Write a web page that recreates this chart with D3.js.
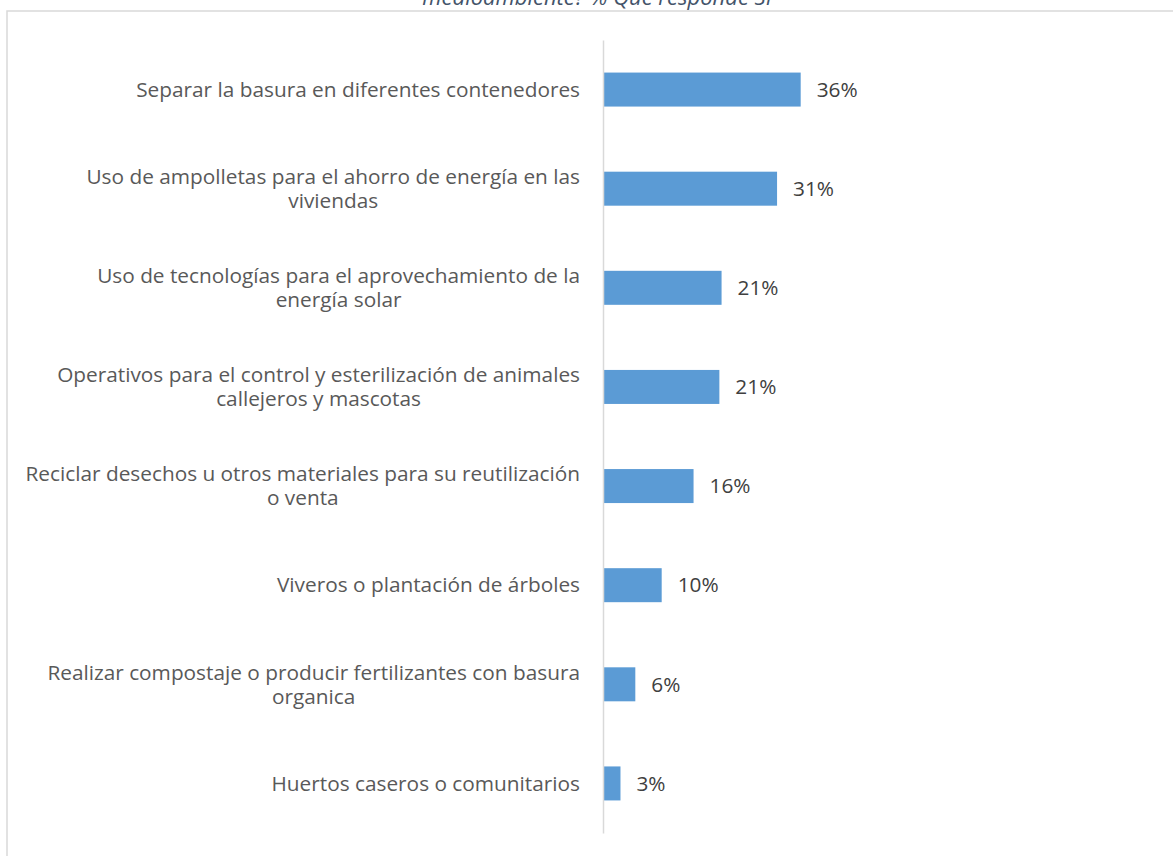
<!DOCTYPE html>
<html>
<head>
<meta charset="utf-8">
<script src="https://cdn.jsdelivr.net/npm/d3@7"></script>
<style>
  html, body { margin: 0; padding: 0; background: #ffffff; }
  svg { display: block; }
</style>
</head>
<body>
<div id="chart"></div>
<script>
const categories = [
  ["Separar la basura en diferentes contenedores"],
  ["Uso de ampolletas para el ahorro de energía en las", "viviendas"],
  ["Uso de tecnologías para el aprovechamiento de la", "energía solar"],
  ["Operativos para el control y esterilización de animales", "callejeros y mascotas"],
  ["Reciclar desechos u otros materiales para su reutilización", "o venta"],
  ["Viveros o plantación de árboles"],
  ["Realizar compostaje o producir fertilizantes con basura", "organica"],
  ["Huertos caseros o comunitarios"]
];
const values = [35.8, 31.5, 21.4, 21.0, 16.3, 10.5, 5.7, 3.0];
const valueLabels = ["36%", "31%", "21%", "21%", "16%", "10%", "6%", "3%"];
const titleText = "medioambiente? % Que responde SI";

const W = 1173, H = 856;
const fontFam = "'Open Sans', 'Noto Sans', sans-serif";

const svg = d3.select("#chart").append("svg")
  .attr("width", W).attr("height", H);

// frame
svg.append("rect")
  .attr("x", 7).attr("y", 11)
  .attr("width", W + 20).attr("height", H + 20)
  .attr("fill", "none").attr("stroke", "#d9d9d9").attr("stroke-width", 1.5);

// title (cut off at top, as in the reference)
svg.append("text")
  .attr("x", 597).attr("y", 5)
  .attr("text-anchor", "middle")
  .attr("font-family", fontFam)
  .attr("font-style", "italic")
  .attr("font-size", 22)
  .attr("fill", "#44546a")
  .text(titleText);

const x0 = 604;
const x = d3.scaleLinear().domain([0, 40]).range([x0, x0 + 40 * 5.494]);
const idx = d3.range(categories.length);
const y = d3.scaleBand().domain(idx).range([40, 833]).paddingInner(0.657).paddingOuter(0.3285);

// bars
svg.append("g").selectAll("rect").data(idx).join("rect")
  .attr("x", x(0))
  .attr("y", i => y(i))
  .attr("width", i => x(values[i]) - x(0))
  .attr("height", y.bandwidth())
  .attr("fill", "#5b9bd5");

// axis line
const yAxis = d3.axisLeft(y).tickSize(0).tickFormat("");
const ag = svg.append("g").attr("transform", `translate(${x0 - 1},0)`).call(yAxis);
ag.select(".domain").attr("stroke", "#d9d9d9").attr("stroke-width", 1.5);

// category labels
const labelRight = 580;
const lg = svg.append("g")
  .attr("font-family", fontFam).attr("font-size", 20.8).attr("fill", "#595959");
idx.forEach(i => {
  const lines = categories[i];
  const cy = y(i) + y.bandwidth() / 2;
  const t = lg.append("text").attr("text-anchor", "middle");
  const spans = lines.map((ln, k) =>
    t.append("tspan").attr("y", cy + (k - (lines.length - 1) / 2) * 24).attr("dy", "0.35em").text(ln));
  let maxW = 0;
  spans.forEach(s => { maxW = Math.max(maxW, s.node().getComputedTextLength()); });
  spans.forEach(s => s.attr("x", labelRight - maxW / 2));
});

// value labels
svg.append("g").attr("font-family", fontFam).attr("font-size", 20.8).attr("fill", "#404040")
  .selectAll("text").data(idx).join("text")
  .attr("x", i => x(values[i]) + 16)
  .attr("y", i => y(i) + y.bandwidth() / 2)
  .attr("dy", "0.35em")
  .text(i => valueLabels[i]);
</script>
</body>
</html>
